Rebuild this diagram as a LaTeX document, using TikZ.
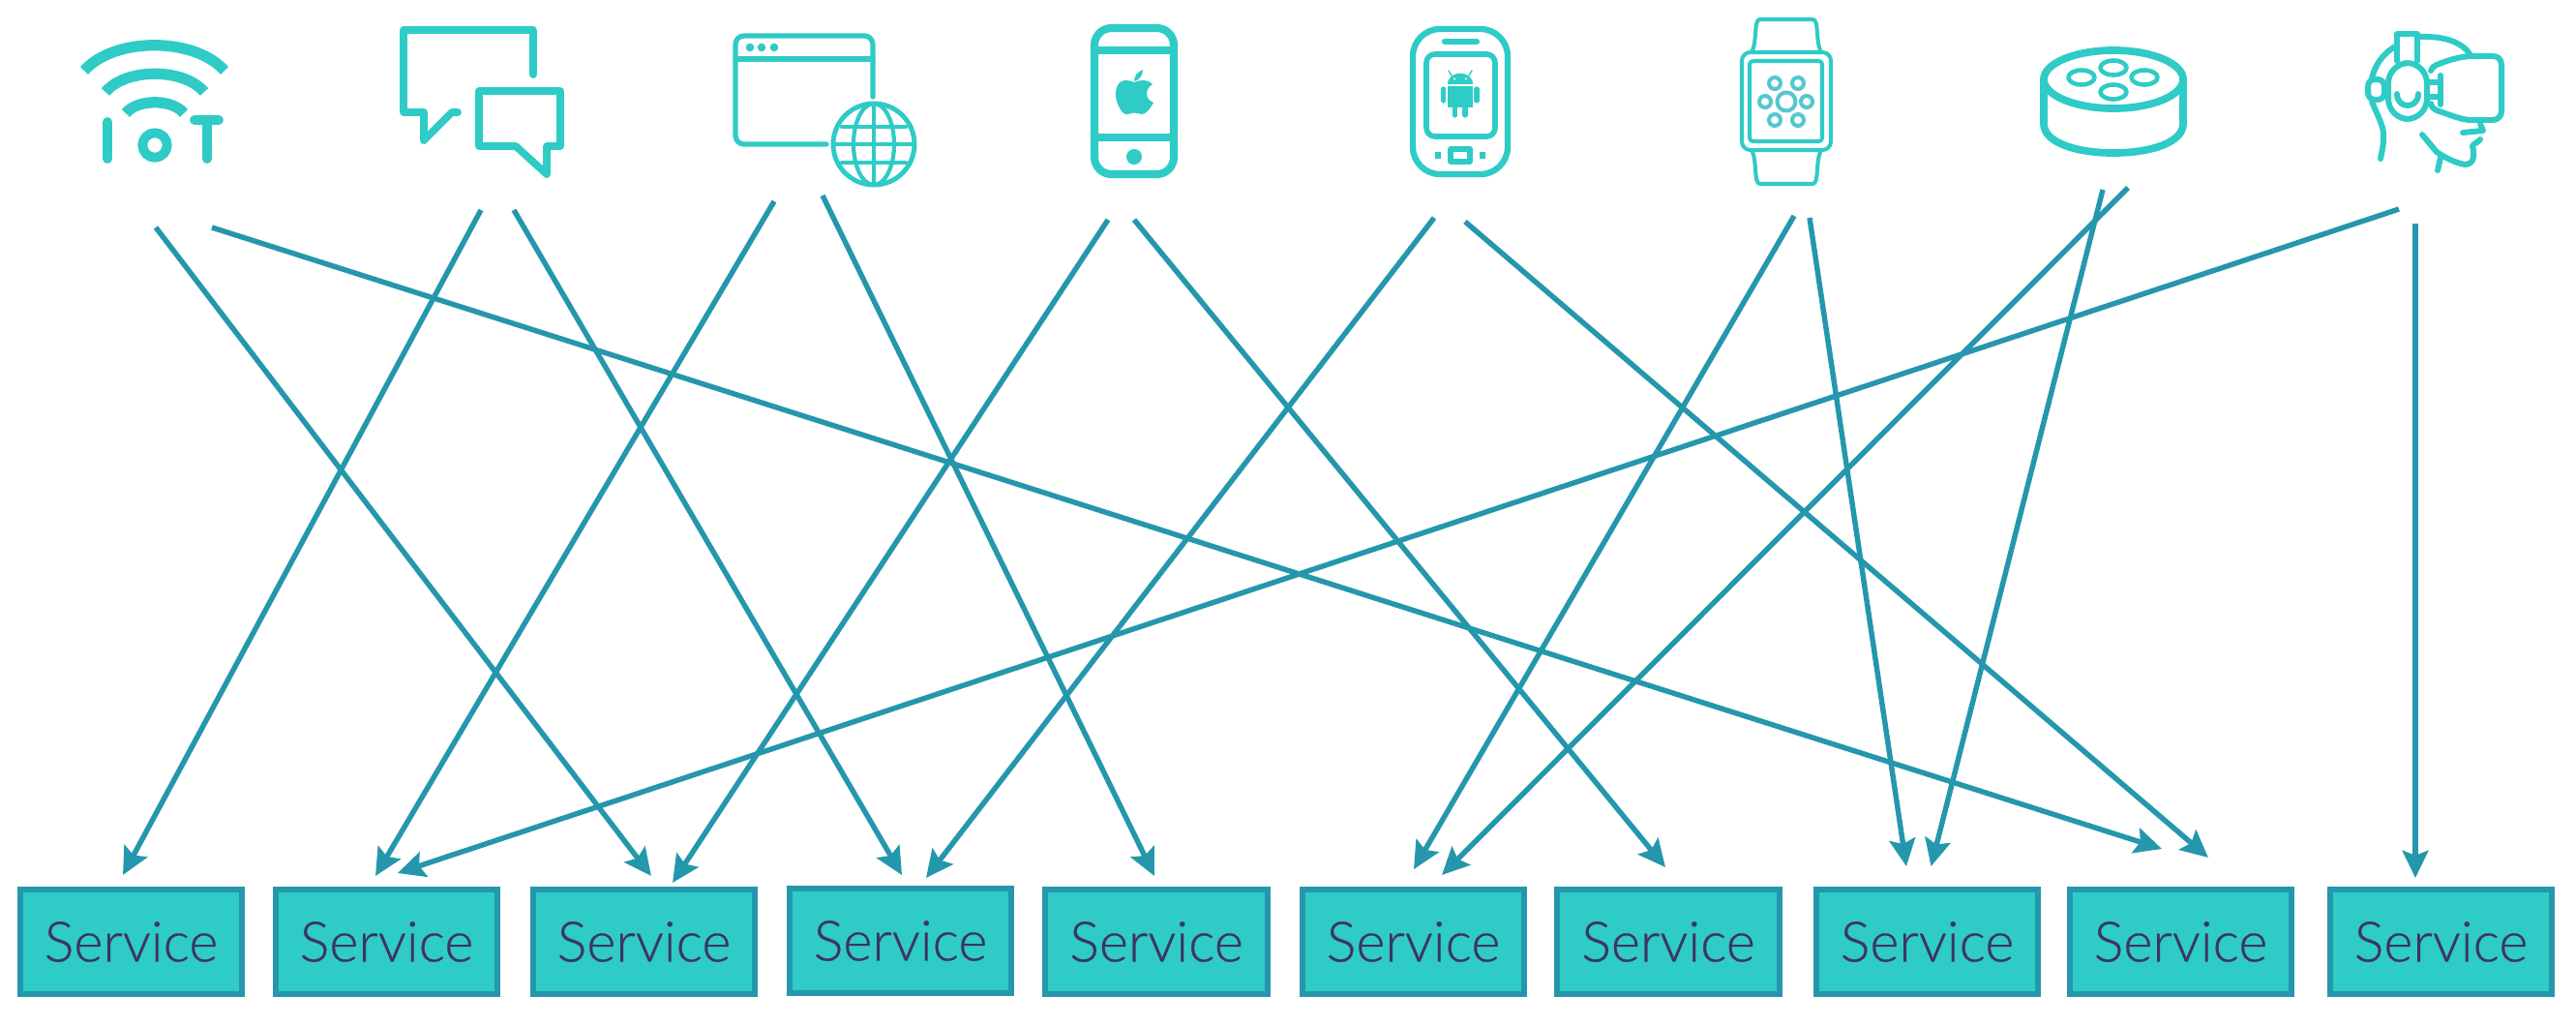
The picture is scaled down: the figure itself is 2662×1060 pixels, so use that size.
\documentclass[tikz,border=0pt]{standalone}
\usepackage{fontspec}
\setmainfont{Lato}[UprightFont=* Light,FakeBold=0.35]
\usetikzlibrary{arrows.meta}
\definecolor{tealfill}{HTML}{2FCBC6}
\definecolor{tealline}{HTML}{2597AD}
\definecolor{servtext}{HTML}{3C3561}
\definecolor{softteal}{HTML}{55C8CE}
\tikzset{
  service/.style={draw=tealline,fill=tealfill,line width=1.7pt,minimum width=2.29cm,minimum height=1.08cm,inner sep=0pt,text=servtext,font=\fontsize{16.4}{18}\selectfont},
  flow/.style={draw=tealline,line width=1.55pt,-{Stealth[length=8pt,width=7.6pt,inset=1.4pt]}},
  icon/.style={draw=tealfill,line cap=round,line join=round,line width=#1},
  icon/.default=1.4pt,
  solidicon/.style={fill=tealfill,draw=none}
}
\begin{document}
\begin{tikzpicture}[x=0.01cm,y=-0.01cm]
\useasboundingbox (0,0) rectangle (2662,1060);
% services
\node[service] (s1) at (135.5,973) {Service};
\node[service] (s2) at (399.5,973) {Service};
\node[service] (s3) at (665.5,973) {Service};
\node[service] (s4) at (930.5,972) {Service};
\node[service] (s5) at (1195,973) {Service};
\node[service] (s6) at (1460.5,973) {Service};
\node[service] (s7) at (1724,973) {Service};
\node[service] (s8) at (1991.5,973) {Service};
\node[service] (s9) at (2253.5,973) {Service};
\node[service] (s10) at (2522.5,973) {Service};
% connector ends
\foreach \n/\sx/\sy/\tx/\ty in {
 1/161/235/673/905, 2/219/235/2234/877, 3/497/217/127/904, 4/531/217/932/904,
 5/800/208/388/905, 6/850/202/1193/905, 7/1145/227/695/912, 8/1172/227/1721/896,
 9/1482/225/957/907, 10/1514/229/2282/886, 11/1854/223/1461/898, 12/1870/225/1970/895,
 13/2173/196/1995.5/895, 14/2199/194/1490/904, 15/2479/216/411/902, 16/2496/231/2496/907}{
  \coordinate (a\n) at (\sx,\sy);
  \coordinate (b\n) at (\tx,\ty);
  \draw[flow] (a\n) -- (b\n);
}
% IoT icon
\begin{scope}[icon=2.8pt]
\draw[line width=3.2pt,line cap=butt] (87,73) .. controls (118,38) and (201,38) .. (232,73);
\draw[line width=3.2pt,line cap=butt] (109,95) .. controls (130,70) and (190,70) .. (211,95);
\draw[line width=3.2pt,line cap=butt] (130,117) .. controls (142,102) and (178,102) .. (190,117);
\draw (111,126) -- (111,164);
\draw (160,150) circle[radius=12.7];
\draw (201,124) -- (226,124);
\draw (214,124) -- (214,164);
\end{scope}
% chat icon
\begin{scope}[icon=2.2pt]
\draw (551,77) -- (551,31) -- (417,31) -- (417,116) -- (438,116) -- (438,145) -- (467,116) -- (473,116);
\draw (495,94) -- (579,94) -- (579,151) -- (565,151) -- (565,180) -- (533,151) -- (495,151) -- cycle;
\end{scope}
% browser icon
\begin{scope}[icon=1.5pt]
\draw[rounded corners=2.5pt] (902,100) -- (902,37) -- (760,37) -- (760,149) -- (854,149);
\draw (760,61) -- (902,61);
\fill[tealfill] (775,49) circle[radius=4.3] (787,49) circle[radius=4.3] (800,49) circle[radius=4.3];
\draw[line width=1.4pt] (903,149) circle[radius=42];
\draw[line width=1.2pt] (903,149) ellipse[x radius=21,y radius=42];
\draw[line width=1.2pt] (903,107) -- (903,191);
\draw[line width=1.2pt] (870,131) -- (936,131) (861,149) -- (945,149) (870,168) -- (936,168);
\end{scope}
% iPhone icon
\begin{scope}[icon=2.3pt]
\draw[rounded corners=5pt] (1131,29) rectangle (1213,180);
\draw[line cap=butt] (1131,52) -- (1213,52) (1131,142) -- (1213,142);
\fill[tealfill] (1172,162) circle[radius=8];
\fill[tealfill] (1172,85) .. controls (1165,82) and (1153,80) .. (1153,98) .. controls (1153,106) and (1159,118) .. (1164,118) .. controls (1168,118) and (1169,116.5) .. (1172,116.5) .. controls (1175,116.5) and (1177,118) .. (1180,118) .. controls (1185,118) and (1190,110) .. (1192,106) .. controls (1187,104) and (1185,100) .. (1185,97) .. controls (1185,92) and (1188,89) .. (1191,87) .. controls (1187,82) and (1178,82) .. (1172,85) -- cycle;
\fill[tealfill] (1172,84) .. controls (1172,78) and (1176,74) .. (1181,72) .. controls (1181,78) and (1177,83) .. (1172,84) -- cycle;
\end{scope}
% Android icon
\begin{scope}[icon=1.8pt]
\draw[rounded corners=8pt] (1460,30) rectangle (1558,180);
\draw (1493,43) -- (1526,43);
\draw[line width=1.6pt,rounded corners=2.5pt] (1474,56) rectangle (1545,141);
\fill[tealfill] (1496,87) .. controls (1496,72) and (1522,72) .. (1522,87) -- cycle;
\fill[tealfill] (1496,89) rectangle (1522,111);
\draw[line width=1.5pt] (1491.5,92) -- (1491.5,104) (1526,92) -- (1526,104) (1503.5,112) -- (1503.5,119) (1514,112) -- (1514,119);
\draw[line width=0.4pt] (1500,78) -- (1497,73) (1518,78) -- (1521,73);
\fill[white] (1503,81.5) circle[radius=1.1] (1515,81.5) circle[radius=1.1];
\draw[line width=1.5pt,line cap=butt] (1499,154) rectangle (1519,167);
\fill[tealfill] (1483,157) rectangle (1489,164) (1529,157) rectangle (1535,164);
\end{scope}
% watch icon
\begin{scope}[icon=1.15pt]
\draw[rounded corners=2.5pt] (1800,54) rectangle (1892,155);
\draw[rounded corners=1pt] (1808,63) rectangle (1883,146);
\draw (1811,52) .. controls (1816,40) and (1812,20) .. (1819,20) -- (1873,20) .. controls (1880,20) and (1876,40) .. (1881,52);
\draw (1811,157) .. controls (1816,169) and (1812,190) .. (1819,190) -- (1873,190) .. controls (1880,190) and (1876,169) .. (1881,157);
\begin{scope}[draw=softteal,line width=1.15pt]
\draw (1846,105) circle[radius=9.5];
\draw (1834,86) circle[radius=6] (1858,86) circle[radius=6] (1824,105) circle[radius=6] (1867,105) circle[radius=6] (1834,124) circle[radius=6] (1858,124) circle[radius=6];
\end{scope}
\end{scope}
% speaker icon
\begin{scope}[icon=2.2pt]
\draw (2184,82) ellipse[x radius=72,y radius=30];
\draw (2112,82) -- (2112,128) .. controls (2112,147) and (2145,158) .. (2184,158) .. controls (2223,158) and (2256,147) .. (2256,128) -- (2256,82);
\begin{scope}[line width=1.3pt]
\draw (2184,70) ellipse[x radius=13.5,y radius=7.5];
\draw (2151,80) ellipse[x radius=13.5,y radius=7.5];
\draw (2216,80) ellipse[x radius=13.5,y radius=7.5];
\draw (2184,95) ellipse[x radius=13.5,y radius=7.5];
\end{scope}
\end{scope}
% VR icon
\begin{scope}[icon=1.7pt]
\draw (2477,63) -- (2477,35) -- (2498,35) -- (2498,63);
\draw[rounded corners=6pt] (2468,65) rectangle (2508,123);
\draw (2477,97) .. controls (2477,113) and (2499,113) .. (2499,97);
\draw (2477,47) .. controls (2462,55) and (2454,68) .. (2451,81);
\draw (2500,38) .. controls (2527,37) and (2545,44) .. (2553,57);
\draw[rounded corners=2pt] (2447,82) rectangle (2464,103);
\draw (2512,73) .. controls (2513,70) and (2515,68) .. (2518,67) .. controls (2530,62) and (2541,59) .. (2552,58) -- (2576,58) .. controls (2581,58) and (2585,61) .. (2585,67) -- (2585,115) .. controls (2585,120) and (2581,124) .. (2576,124) -- (2552,124) .. controls (2541,123) and (2530,118) .. (2518,114) .. controls (2515,113) and (2513,111) .. (2512,107);
\draw (2522,78) -- (2522,108);
\draw (2510,85) -- (2522,85) (2510,100) -- (2522,100);
\draw (2451,105) .. controls (2464,135) and (2466,135) .. (2460,164);
\draw (2563,128) -- (2566,135) -- (2545,137);
\draw (2563,144) .. controls (2560,148) and (2556,148) .. (2555,151) .. controls (2557,158) and (2558,170) .. (2547,170) .. controls (2537,168) and (2527,163) .. (2518,157) -- (2503,139);
\draw (2522,163) -- (2519,176);
\end{scope}
\end{tikzpicture}
\end{document}
